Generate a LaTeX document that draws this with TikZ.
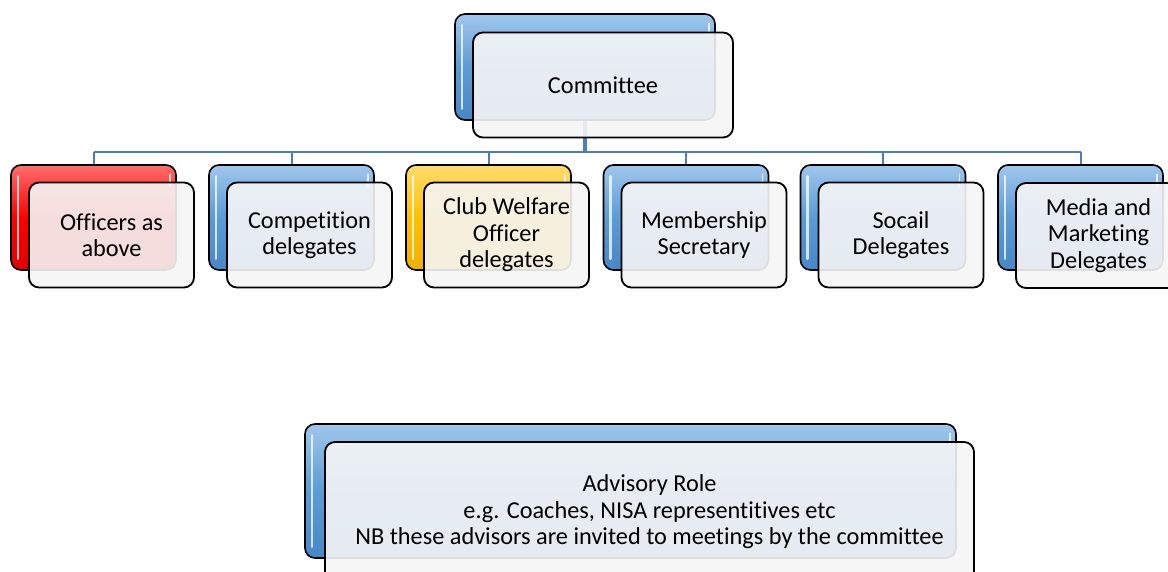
\documentclass[tikz,border=0pt]{standalone}
\usepackage{fontspec}
\setmainfont{Carlito}[RawFeature={-liga;-clig;-dlig}]
\definecolor{bblue}{RGB}{91,155,213}
\definecolor{bbluelt}{RGB}{160,199,236}
\definecolor{bbluedk}{RGB}{72,135,200}
\definecolor{bred}{RGB}{255,0,0}
\definecolor{bredlt}{RGB}{255,110,110}
\definecolor{breddk}{RGB}{225,0,0}
\definecolor{byel}{RGB}{255,192,0}
\definecolor{byellt}{RGB}{255,220,110}
\definecolor{byeldk}{RGB}{240,175,0}
\definecolor{frontfill}{RGB}{246,246,246}
\definecolor{linkcol}{RGB}{74,126,187}
\tikzset{
  backbox/.style={draw=black, line width=1.6pt, rounded corners=10pt, rectangle,
    minimum width=#1, minimum height=105pt, inner sep=0pt},
  bluebox/.style={top color=bbluelt, bottom color=bbluedk, middle color=bblue},
  redbox/.style={top color=bredlt, bottom color=breddk, middle color=bred},
  yelbox/.style={top color=byellt, bottom color=byeldk, middle color=byel},
  frontbox/.style={draw=black, line width=1.8pt, rounded corners=10pt, rectangle,
    fill=frontfill, fill opacity=0.9, text opacity=1, draw opacity=1,
    minimum width=#1, minimum height=105pt, inner sep=0pt, align=center,
    font=\fontsize{24.3}{26.5}\selectfont},
  link/.style={draw=linkcol, line width=2pt},
  trunk/.style={draw=linkcol, line width=3.5pt},
  shine/.style={draw=white, line width=2.5pt, line cap=round, opacity=0.75}
}
\begin{document}
\begin{tikzpicture}[x=1pt,y=-1pt]
\clip (0,0) rectangle (1168,571);
\fill[white] (0,0) rectangle (1168,571);
% back boxes
\node[backbox=260pt, minimum height=106pt, bluebox] (bc) at (585,67) {};
\node[backbox=165pt, redbox] (b1) at (93.5,217.5) {};
\node[backbox=165pt, bluebox] (b2) at (291.5,217.5) {};
\node[backbox=165pt, yelbox] (b3) at (488.5,217.5) {};
\node[backbox=165pt, bluebox] (b4) at (686,217.5) {};
\node[backbox=165pt, bluebox] (b5) at (883,217.5) {};
\node[backbox=165pt, bluebox] (b6) at (1080.5,217.5) {};
\node[backbox=651pt, minimum height=134pt, bluebox] (ba) at (630.5,491) {};
% highlights on back boxes
\foreach \n in {bc,b1,b2,b3,b4,b5,b6,ba}{
  \draw[shine] ([xshift=8pt,yshift=-12pt]\n.north west) -- ([xshift=8pt,yshift=12pt]\n.south west);
  \draw[shine, line width=1.5pt] ([xshift=-7pt,yshift=-10pt]\n.north east) -- ([xshift=-7pt,yshift=-22pt]\n.north east);
}
% connectors
\coordinate (bus) at (585,152);
\draw[trunk] (bc.south) -- (bc.south |- bus);
\draw[link] (b1.north |- bus) -- (b6.north |- bus);
\foreach \n in {b1,b2,b3,b4,b5,b6}{
  \draw[link] (\n.north |- bus) -- (\n.north);
}
% front boxes
\node[frontbox=260pt, minimum height=105pt] (fc) at (603,85) {Committee};
\node[frontbox=165pt] (f1) at (111.5,235) {Officers as\\above};
\node[frontbox=165pt] (f2) at (309.5,235) {Competition\\delegates};
\node[frontbox=165pt] (f3) at (506.5,235) {Club Welfare\\Officer\\delegates};
\node[frontbox=165pt] (f4) at (704,235) {Membership\\Secretary};
\node[frontbox=165pt] (f5) at (901,235) {Socail\\Delegates};
\node[frontbox=165pt] (f6) at (1098.5,235.5) {Media and\\Marketing\\Delegates};
\node[frontbox=649pt, minimum height=140pt] (fa) at (649.5,512) {Advisory Role\\e.g. Coaches, NISA representitives etc\\NB these advisors are invited to meetings by the committee};
\end{tikzpicture}
\end{document}
